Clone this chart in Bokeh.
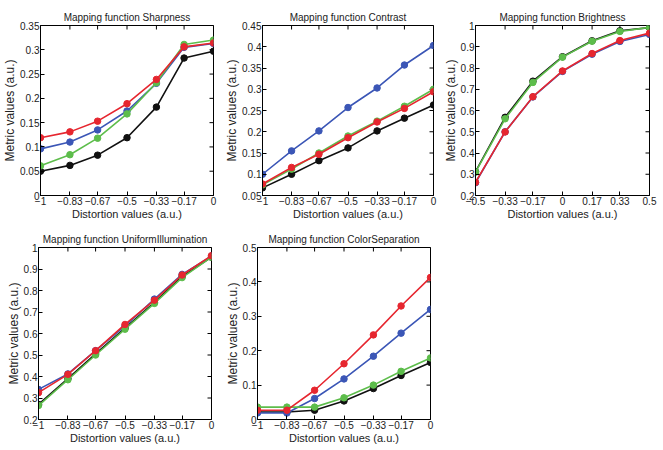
import math
from bokeh.plotting import figure
from bokeh.layouts import column, row
from bokeh.models import Range1d, FixedTicker
from bokeh.embed import file_html
from bokeh.resources import INLINE

# ---- data ----
x_neg = [-1, -0.83, -0.67, -0.5, -0.33, -0.17, 0]
x_neg_labels = ["\u22121", "\u22120.83", "\u22120.67", "\u22120.5", "\u22120.33", "\u22120.17", "0"]
x_sym = [-0.5, -0.33, -0.17, 0, 0.17, 0.33, 0.5]
x_sym_labels = ["\u22120.5", "\u22120.33", "\u22120.17", "0", "0.17", "0.33", "0.5"]

series_names = ["black", "blue", "green", "red"]

sharp_black = [0.050, 0.062, 0.083, 0.119, 0.182, 0.283, 0.297]
sharp_blue = [0.096, 0.110, 0.135, 0.174, 0.231, 0.305, 0.313]
sharp_green = [0.061, 0.084, 0.118, 0.168, 0.232, 0.311, 0.320]
sharp_red = [0.119, 0.131, 0.153, 0.189, 0.239, 0.306, 0.314]
sharp_yticks = [0, 0.05, 0.1, 0.15, 0.2, 0.25, 0.3, 0.35]
sharp_ylabels = ["0", "0.05", "0.1", "0.15", "0.2", "0.25", "0.3", "0.35"]

contr_black = [0.068, 0.100, 0.132, 0.162, 0.202, 0.232, 0.263]
contr_blue = [0.100, 0.155, 0.202, 0.257, 0.303, 0.357, 0.403]
contr_green = [0.075, 0.112, 0.150, 0.190, 0.225, 0.260, 0.300]
contr_red = [0.077, 0.116, 0.147, 0.186, 0.223, 0.255, 0.294]
contr_yticks = [0.05, 0.1, 0.15, 0.2, 0.25, 0.3, 0.35, 0.4, 0.45]
contr_ylabels = ["0.05", "0.1", "0.15", "0.2", "0.25", "0.3", "0.35", "0.4", "0.45"]

bright_black = [0.312, 0.568, 0.738, 0.853, 0.928, 0.975, 0.990]
bright_blue = [0.260, 0.500, 0.664, 0.784, 0.865, 0.925, 0.958]
bright_green = [0.310, 0.561, 0.732, 0.851, 0.926, 0.972, 0.991]
bright_red = [0.262, 0.499, 0.665, 0.786, 0.868, 0.929, 0.964]
bright_yticks = [0.2, 0.3, 0.4, 0.5, 0.6, 0.7, 0.8, 0.9, 1.0]
bright_ylabels = ["0.2", "0.3", "0.4", "0.5", "0.6", "0.7", "0.8", "0.9", "1"]

unif_black = [0.270, 0.390, 0.505, 0.625, 0.745, 0.865, 0.955]
unif_blue = [0.340, 0.412, 0.520, 0.635, 0.760, 0.875, 0.960]
unif_green = [0.265, 0.385, 0.500, 0.620, 0.740, 0.860, 0.955]
unif_red = [0.325, 0.410, 0.520, 0.642, 0.755, 0.872, 0.962]
unif_yticks = [0.2, 0.3, 0.4, 0.5, 0.6, 0.7, 0.8, 0.9, 1.0]
unif_ylabels = ["0.2", "0.3", "0.4", "0.5", "0.6", "0.7", "0.8", "0.9", "1"]

csep_black = [0.022, 0.022, 0.027, 0.054, 0.090, 0.128, 0.166]
csep_blue = [0.019, 0.019, 0.061, 0.118, 0.184, 0.251, 0.320]
csep_green = [0.036, 0.036, 0.036, 0.063, 0.100, 0.140, 0.179]
csep_red = [0.027, 0.027, 0.085, 0.162, 0.246, 0.330, 0.413]
csep_yticks = [0, 0.1, 0.2, 0.3, 0.4, 0.5]
csep_ylabels = ["0", "0.1", "0.2", "0.3", "0.4", "0.5"]

COLORS = {"black": "#111111", "blue": "#3b56b6", "green": "#5dbd4b", "red": "#e6262f"}
FONT = "Liberation Sans"
TXT = "#222222"


def style_axis(ax, ticks, labels, label_size):
    ax.ticker = FixedTicker(ticks=ticks)
    ax.major_label_overrides = {t: l for t, l in zip(ticks, labels)}
    ax.major_tick_in = 4
    ax.major_tick_out = 0
    ax.minor_tick_line_color = None
    ax.axis_line_color = "black"
    ax.major_tick_line_color = "black"
    ax.major_label_text_font = FONT
    ax.major_label_text_color = TXT
    ax.major_label_text_font_size = "10px"
    ax.axis_label_text_font = FONT
    ax.axis_label_text_font_style = "normal"
    ax.axis_label_text_color = TXT
    ax.axis_label_text_font_size = label_size
    ax.major_label_standoff = 1
    ax.axis_label_standoff = 0


def make_fig(title, xs, xlabels, xr, yticks, ylabels, yr, data, w, h, bl, br, bt, bb):
    p = figure(width=w, height=h, output_backend="svg", toolbar_location=None,
               x_range=Range1d(*xr), y_range=Range1d(*yr),
               min_border_left=bl, min_border_right=br,
               min_border_top=bt, min_border_bottom=bb, title=title)
    p.title.align = "center"
    p.title.text_font = FONT
    p.title.text_font_size = "10px"
    p.title.text_font_style = "normal"
    p.title.text_color = TXT
    p.title.standoff = 6
    p.grid.visible = False
    p.outline_line_color = "black"
    p.outline_line_alpha = 1.0
    p.background_fill_color = "white"
    p.border_fill_color = "white"

    style_axis(p.xaxis[0], xs, xlabels, "11px")
    style_axis(p.yaxis[0], yticks, ylabels, "12px")
    p.xaxis[0].axis_label = "Distortion values (a.u.)"
    p.yaxis[0].axis_label = "Metric values (a.u.)"

    # inner ticks on the top and right edges of the box (clipped to the frame)
    p.scatter(xs, [yr[1]] * len(xs), marker="dash", size=8, angle=math.pi / 2,
              line_color="black", line_width=1)
    p.scatter([xr[1]] * len(yticks), yticks, marker="dash", size=8,
              line_color="black", line_width=1)

    for name, ys in zip(series_names, data):
        c = COLORS[name]
        p.line(xs, ys, line_color=c, line_width=1.6)
        p.scatter(xs, ys, size=6.5, fill_color=c, line_color=c)
    return p


f1 = make_fig("Mapping function Sharpness", x_neg, x_neg_labels, (-1, 0),
              sharp_yticks, sharp_ylabels, (0, 0.35),
              [sharp_black, sharp_blue, sharp_green, sharp_red],
              222, 222, 40, 9, 25, 24)
f2 = make_fig("Mapping function Contrast", x_neg, x_neg_labels, (-1, 0),
              contr_yticks, contr_ylabels, (0.05, 0.45),
              [contr_black, contr_blue, contr_green, contr_red],
              218, 222, 36, 7, 23, 25)
f3 = make_fig("Mapping function Brightness", x_sym, x_sym_labels, (-0.5, 0.5),
              bright_yticks, bright_ylabels, (0.2, 1.0),
              [bright_black, bright_blue, bright_green, bright_red],
              223, 222, 34, 14, 24, 26)
f4 = make_fig("Mapping function UniformIllumination", x_neg, x_neg_labels, (-1, 0),
              unif_yticks, unif_ylabels, (0.2, 1.0),
              [unif_black, unif_blue, unif_green, unif_red],
              222, 228, 38, 11, 24, 29)
f5 = make_fig("Mapping function ColorSeparation", x_neg, x_neg_labels, (-1, 0),
              csep_yticks, csep_ylabels, (0, 0.5),
              [csep_black, csep_blue, csep_green, csep_red],
              218, 228, 35, 10, 25, 31)

layout = column(row(f1, f2, f3), row(f4, f5))

with open("out.html", "w") as fh:
    fh.write(file_html(layout, INLINE))
